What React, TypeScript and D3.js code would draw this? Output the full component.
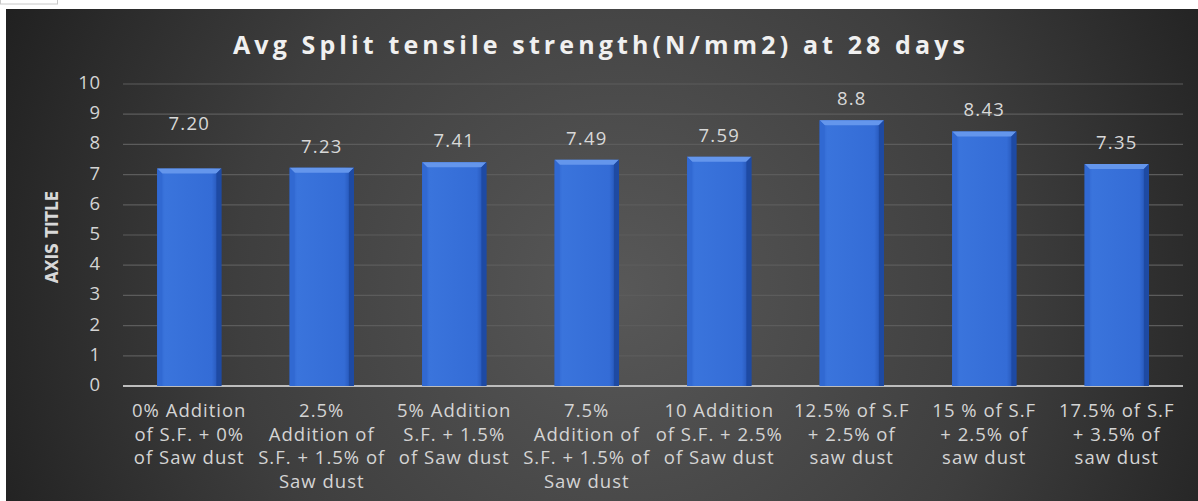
import React from 'react';
import * as d3 from 'd3';

// chart data
const categories: string[][] = [
  ['0% Addition', 'of S.F. + 0%', 'of Saw dust'],
  ['2.5%', 'Addition of', 'S.F. + 1.5% of', 'Saw dust'],
  ['5% Addition', 'S.F. + 1.5%', 'of Saw dust'],
  ['7.5%', 'Addition of', 'S.F. + 1.5% of', 'Saw dust'],
  ['10 Addition', 'of S.F. + 2.5%', 'of Saw dust'],
  ['12.5% of S.F', '+ 2.5% of', 'saw dust'],
  ['15 % of S.F', '+ 2.5% of', 'saw dust'],
  ['17.5% of S.F', '+ 3.5% of', 'saw dust'],
];
const values = [7.2, 7.23, 7.41, 7.49, 7.59, 8.8, 8.43, 7.35];
const valueLabels = ['7.20', '7.23', '7.41', '7.49', '7.59', '8.8', '8.43', '7.35'];
const yTicks = [0, 1, 2, 3, 4, 5, 6, 7, 8, 9, 10];
const title = 'Avg Split tensile strength(N/mm2) at 28 days';
const yTitle = 'AXIS TITLE';

const W = 1198;
const H = 501;
const margin = { left: 123, right: 15, top: 84, bottom: 115 };

export default function App() {
  const x = d3
    .scaleBand<number>()
    .domain(d3.range(values.length))
    .range([margin.left, W - margin.right])
    .paddingInner(0.515)
    .paddingOuter(0.2575);
  const y = d3.scaleLinear().domain([0, 10]).range([H - margin.bottom, margin.top]);
  const bw = x.bandwidth();
  const font = "'Open Sans', 'DejaVu Sans', sans-serif";

  return (
    <svg
      width={W}
      height={H}
      style={{ position: 'absolute', left: 0, top: 0 }}
      xmlns="http://www.w3.org/2000/svg"
    >
      <defs>
        <radialGradient id="bg" gradientUnits="userSpaceOnUse" cx={620} cy={290} r={700}>
          <stop offset="0%" stopColor="#585858" />
          <stop offset="55%" stopColor="#3e3e3e" />
          <stop offset="100%" stopColor="#1e1e1e" />
        </radialGradient>
        <linearGradient id="barFill" x1="0" x2="1" y1="0" y2="0">
          <stop offset="0%" stopColor="#2d62cc" />
          <stop offset="12%" stopColor="#3a74dc" />
          <stop offset="85%" stopColor="#346cd6" />
          <stop offset="100%" stopColor="#1f4ba8" />
        </linearGradient>
      </defs>
      <rect x={0} y={0} width={W} height={H} fill="#ffffff" />
      <rect x={0.5} y={-1} width={57} height={5} fill="#ffffff" stroke="#c8c8c8" />
      <rect x={6} y={9} width={W - 6} height={H - 9} fill="url(#bg)" />

      {/* title */}
      <text
        x={599}
        y={47}
        textAnchor="middle"
        dominantBaseline="middle"
        fill="#f0f0f0"
        fontFamily={font}
        fontWeight="bold"
        fontSize={25}
        textLength={732}
        lengthAdjust="spacing"
      >
        {title}
      </text>

      {/* gridlines */}
      {yTicks.map((t) => (
        <line
          key={t}
          x1={margin.left}
          x2={W - margin.right}
          y1={y(t)}
          y2={y(t)}
          stroke={t === 0 ? '#bdbdbd' : '#5c5c5c'}
          strokeWidth={t === 0 ? 1.8 : 1.2}
        />
      ))}

      {/* y tick labels */}
      {yTicks.map((t) => (
        <text
          key={t}
          x={101}
          y={y(t)}
          textAnchor="end"
          dominantBaseline="middle"
          fill="#d4d4d4"
          fontFamily={font}
          fontSize={18.5}
          letterSpacing={0.8}
        >
          {t}
        </text>
      ))}

      <text
        transform={`translate(53,${(y(0) + y(10)) / 2 + 2}) rotate(-90)`}
        textAnchor="middle"
        dominantBaseline="middle"
        fill="#d8d8d8"
        fontFamily="'Liberation Sans Narrow', 'DejaVu Sans Condensed', sans-serif"
        fontWeight="bold"
        fontSize={17}
      >
        {yTitle}
      </text>

      {/* bars */}
      {values.map((v, i) => {
        const x0 = x(i)!;
        const y0 = y(v);
        const h = y(0) - y0;
        const b = 5;
        return (
          <g key={i}>
            <rect x={x0} y={y0} width={bw} height={h} fill="url(#barFill)" />
            <polygon
              points={`${x0},${y0} ${x0 + bw},${y0} ${x0 + bw - b},${y0 + b} ${x0 + b},${y0 + b}`}
              fill="#6496ec"
            />
            <polygon
              points={`${x0},${y0} ${x0 + b},${y0 + b} ${x0 + b},${y(0)} ${x0},${y(0)}`}
              fill="#3169d2"
            />
            <polygon
              points={`${x0 + bw},${y0} ${x0 + bw - b},${y0 + b} ${x0 + bw - b},${y(0)} ${x0 + bw},${y(0)}`}
              fill="#1e4aa3"
            />
          </g>
        );
      })}

      {/* value labels (first one sits higher, as in the original) */}
      {values.map((v, i) => (
        <text
          key={i}
          x={x(i)! + bw / 2}
          y={y(v) - (i === 0 ? 44 : 20)}
          textAnchor="middle"
          dominantBaseline="middle"
          fill="#d8d8d8"
          fontFamily={font}
          fontSize={18.5}
          letterSpacing={1.2}
        >
          {valueLabels[i]}
        </text>
      ))}

      {/* category labels */}
      {categories.map((lines, i) => (
        <text
          key={i}
          x={x(i)! + bw / 2}
          textAnchor="middle"
          fill="#d4d4d4"
          fontFamily={font}
          fontSize={18.5}
          letterSpacing={1}
        >
          {lines.map((l, j) => (
            <tspan key={j} x={x(i)! + bw / 2} y={y(0) + 26 + j * 23.6} dominantBaseline="middle">
              {l}
            </tspan>
          ))}
        </text>
      ))}
    </svg>
  );
}
